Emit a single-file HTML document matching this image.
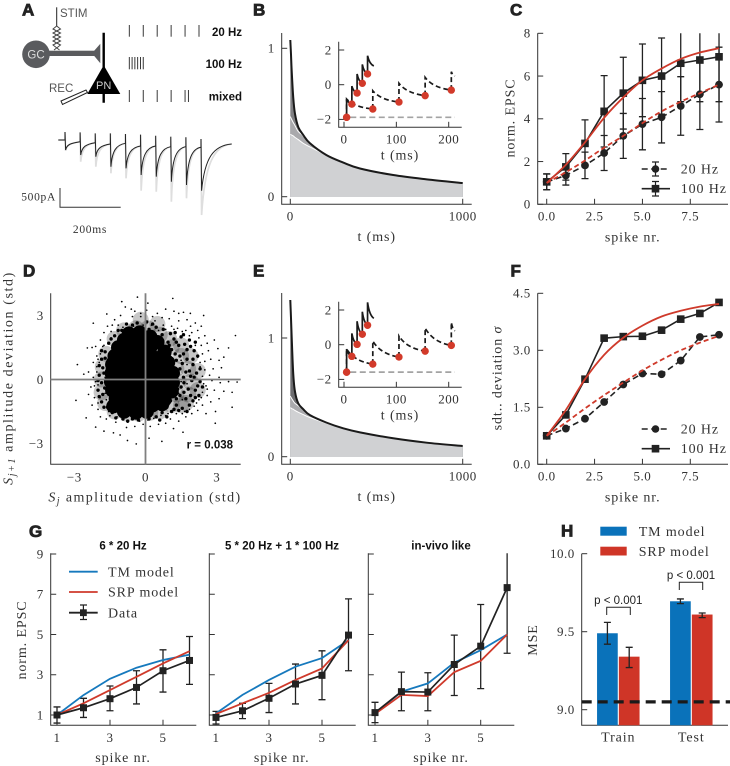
<!DOCTYPE html>
<html>
<head>
<meta charset="utf-8">
<title>Synaptic plasticity figure</title>
<style>
html,body{margin:0;padding:0;background:#fff;}
svg{display:block;}
text{font-family:"Liberation Serif",serif;fill:#333;font-size:13px;letter-spacing:.5px;}
text.t{font-size:14px;letter-spacing:.9px;}
text.sans{font-family:"Liberation Sans",sans-serif;letter-spacing:0;}
text.bold{font-family:"Liberation Sans",sans-serif;font-weight:bold;letter-spacing:0;fill:#111;font-size:11.5px;}
text.panel{font-family:"Liberation Sans",sans-serif;font-weight:bold;letter-spacing:0;fill:#222;font-size:17px;stroke:#222;stroke-width:.8px;}
</style>
</head>
<body>
<svg id="fig" width="730" height="766" viewBox="0 0 730 766" xmlns="http://www.w3.org/2000/svg">
<defs>
<clipPath id="clip-c"><rect x="530" y="33.3" width="200" height="175"/></clipPath>
<clipPath id="clip-g3"><rect x="360" y="553.3" width="160" height="175"/></clipPath>
</defs>

<g>
<text class="panel" x="22" y="15.5">A</text>
<text class="panel" x="253" y="15.5">B</text>
<text class="panel" x="510" y="15.5">C</text>
<text class="panel" x="23" y="276.5">D</text>
<text class="panel" x="253" y="276.5">E</text>
<text class="panel" x="510.5" y="276.5">F</text>
<text class="panel" x="29" y="537">G</text>
<text class="panel" x="561" y="536.5">H</text>
</g>

<g>
<line x1="56.7" y1="7.3" x2="56.7" y2="26" stroke="#222" stroke-width="1"/>
<polyline points="56.7,26 60.5,29 53,33 60.5,37 53,41 60.5,45 54,50" fill="none" stroke="#444" stroke-width="1"/>
<polyline points="56.7,26 53,29 60.5,33 53,37 60.5,41 53,45 59.5,50" fill="none" stroke="#444" stroke-width="1"/>
<circle cx="36" cy="54.3" r="13.8" fill="#5a5b5e"/>
<rect x="48" y="50.7" width="48" height="5.3" fill="#5a5b5e"/>
<polygon points="100.3,43.7 100.3,63.3 92,53.3" fill="#5a5b5e"/>
<line x1="103.7" y1="32.7" x2="103.7" y2="102.7" stroke="#000" stroke-width="2.4"/>
<polygon points="103.7,65.3 120.3,94 87.3,94" fill="#000"/>
<polygon points="61,101 86,90 87.5,92.5 62.5,104.5" fill="#fff" stroke="#222" stroke-width="1"/>
<text class="sans" x="36" y="58.5" text-anchor="middle" style="fill:#ddd;font-size:11.5px">GC</text>
<text class="sans" x="103.7" y="89" text-anchor="middle" style="fill:#ccc;font-size:11px">PN</text>
<text class="sans" x="60" y="17" style="fill:#555;font-size:11.5px">STIM</text>
<text class="sans" x="49" y="92" style="fill:#555;font-size:11.5px">REC</text>
<text class="bold" x="242" y="36" text-anchor="end">20 Hz</text>
<text class="bold" x="242" y="68" text-anchor="end">100 Hz</text>
<text class="bold" x="242" y="100.5" text-anchor="end">mixed</text>
</g>
<g id="rasters"></g>
<g id="trace"></g>
<g>
<path d="M60 188V207.3H120.7" fill="none" stroke="#333" stroke-width="1"/>
<text x="56" y="200.5" text-anchor="end" style="font-size:11.5px;letter-spacing:.7px">500pA</text>
<text x="90" y="233" text-anchor="middle" style="font-size:11.5px;letter-spacing:.7px">200ms</text>
</g>

<g id="panel-b"></g>
<text class="t" x="376.7" y="241" text-anchor="middle">t (ms)</text>
<text class="t" x="400" y="159.5" text-anchor="middle">t (ms)</text>

<g id="panel-c"></g>
<text class="t" x="632.7" y="241.5" text-anchor="middle">spike nr.</text>
<text class="t" transform="translate(514.5,118) rotate(-90)" text-anchor="middle">norm. EPSC</text>
<g>
<line x1="641.7" y1="169" x2="670" y2="169" stroke="#222" stroke-width="1.6" stroke-dasharray="6 3.5"/>
<path d="M652 162H659M655.5 162V176M652 176H659" stroke="#222" stroke-width="1.2" fill="none"/>
<circle cx="655.5" cy="169" r="3.8" fill="#222"/>
<text class="t" x="680.7" y="173.5">20 Hz</text>
<line x1="641.7" y1="188.7" x2="670" y2="188.7" stroke="#222" stroke-width="1.6"/>
<path d="M652 181.5H659M655.5 181.5V196M652 196H659" stroke="#222" stroke-width="1.2" fill="none"/>
<rect x="651.7" y="184.9" width="7.6" height="7.6" fill="#222"/>
<text class="t" x="680.7" y="193.2">100 Hz</text>
</g>

<g id="panel-d"></g>
<text class="t" x="145" y="501.5" text-anchor="middle" style="letter-spacing:1.4px"><tspan font-style="italic">S</tspan><tspan font-style="italic" dy="2.5" style="font-size:10px">j</tspan><tspan dy="-2.5"> amplitude deviation (std)</tspan></text>
<text class="t" transform="translate(12.5,378) rotate(-90)" text-anchor="middle" style="letter-spacing:1.6px"><tspan font-style="italic">S</tspan><tspan font-style="italic" dy="2.5" style="font-size:10px">j+1</tspan><tspan dy="-2.5"> amplitude deviation (std)</tspan></text>
<text class="bold" x="233" y="448.3" text-anchor="end">r = 0.038</text>

<g id="panel-e"></g>
<text class="t" x="376.7" y="501" text-anchor="middle">t (ms)</text>
<text class="t" x="400" y="419.5" text-anchor="middle">t (ms)</text>

<g id="panel-f"></g>
<text class="t" x="632.7" y="501.5" text-anchor="middle">spike nr.</text>
<text class="t" transform="translate(501.5,378) rotate(-90)" text-anchor="middle">sdt.. deviation <tspan font-style="italic">σ</tspan></text>
<g>
<line x1="641.7" y1="429" x2="670" y2="429" stroke="#222" stroke-width="1.6" stroke-dasharray="6 3.5"/>
<circle cx="655.5" cy="429" r="3.8" fill="#222"/>
<text class="t" x="680.7" y="433.5">20 Hz</text>
<line x1="641.7" y1="448.7" x2="670" y2="448.7" stroke="#222" stroke-width="1.6"/>
<rect x="651.7" y="444.9" width="7.6" height="7.6" fill="#222"/>
<text class="t" x="680.7" y="453.2">100 Hz</text>
</g>

<g id="panel-g"></g>
<text class="t" transform="translate(26,640) rotate(-90)" text-anchor="middle">norm. EPSC</text>
<text class="t" x="123" y="762" text-anchor="middle">spike nr.</text>
<text class="t" x="281.7" y="762" text-anchor="middle">spike nr.</text>
<text class="t" x="441" y="762" text-anchor="middle">spike nr.</text>
<text class="bold" x="123" y="549.5" text-anchor="middle">6 * 20 Hz</text>
<text class="bold" x="282" y="549.5" text-anchor="middle">5 * 20 Hz + 1 * 100 Hz</text>
<text class="bold" x="441" y="549.5" text-anchor="middle">in-vivo like</text>
<g>
<line x1="69" y1="571.7" x2="97.7" y2="571.7" stroke="#1679bd" stroke-width="1.8"/>
<text class="t" x="108" y="576.3">TM model</text>
<line x1="69" y1="592" x2="97.7" y2="592" stroke="#cf3a2b" stroke-width="1.8"/>
<text class="t" x="108" y="596.6">SRP model</text>
<line x1="69" y1="612.7" x2="97.7" y2="612.7" stroke="#222" stroke-width="1.8"/>
<path d="M80 605H87M83.4 605V619.5M80 619.5H87" stroke="#222" stroke-width="1.2" fill="none"/>
<rect x="80" y="609.3" width="6.8" height="6.8" fill="#222"/>
<text class="t" x="108" y="617.3">Data</text>
</g>

<g id="panel-h"></g>
<text class="t" transform="translate(537,640) rotate(-90)" text-anchor="middle">MSE</text>
<g>
<rect x="600.3" y="526.7" width="26.4" height="9" fill="#0a72ba"/>
<text class="t" x="638.7" y="536">TM model</text>
<rect x="600.3" y="546.7" width="26.4" height="8.8" fill="#cf3527"/>
<text class="t" x="638.7" y="556">SRP model</text>
</g>
<g>
<text class="sans" x="618.3" y="604" text-anchor="middle" style="font-size:11.5px;fill:#222">p &lt; 0.001</text>
<path d="M606.7 615V607.3H630.3V615" fill="none" stroke="#222" stroke-width="1"/>
<text class="sans" x="691" y="579" text-anchor="middle" style="font-size:11.5px;fill:#222">p &lt; 0.001</text>
<path d="M679.3 590V582.3H702.7V590" fill="none" stroke="#222" stroke-width="1"/>
</g>
</svg>

<script>
// ---------- panel A data ----------
const raster20 = [0, 50, 100, 150, 200, 250];
const raster100 = [0, 10, 20, 30, 40, 50];
const rasterMixed = [0, 50, 100, 150, 200, 212];
const traceTimes = [0, 50, 100, 150, 200, 250, 300, 350, 400, 450];
const tracePre = [0, 45, 71, 105, 87, 158, 158, 176, 176, 192];
const traceTop = [-210, -200, -175, -175, -158, -140, -113, -87, -71, -26];
const traceTroughMean = [263, 395, 439, 703, 745, 921, 965, 1097, 1184, 1334];
const traceTroughMax = [282, 571, 703, 876, 1008, 1334, 1360, 1624, 1534, 1974];
const traceEndValue = 105;

// ---------- panels B / E data ----------
const kernelTime = [0, 4, 8, 17, 27, 46, 75, 114, 210, 307, 404, 597, 791, 1000];
const bTotal = [1.056, .96, .85, .67, .56, .47, .416, .36, .28, .23, .19, .146, .117, .092];
const bMid = [.54, .53, .52, .50, .48, .44, .41, .36, .28, .23, .19, .146, .117, .092];
const bSlow = [.42, .418, .415, .41, .40, .385, .36, .335, .28, .23, .19, .146, .117, .092];
const eTotal = [1.32, 1.17, 1.01, .70, .55, .45, .40, .35, .287, .239, .205, .155, .118, .09];
const eMid = [.51, .50, .49, .47, .45, .43, .40, .35, .287, .239, .205, .155, .118, .09];
const eSlow = [.413, .41, .405, .40, .39, .375, .355, .33, .282, .239, .205, .155, .118, .09];
const kernelXTicks = [0, 1000];
const kernelXLabels = ['0', '1000'];
const kernelYTicks = [0, 1];
const kernelYLabels = ['0', '1'];
const insetXTicks = [0, 100, 200];
const insetXLabels = ['0', '100', '200'];
const insetYTicks = [-2, 0, 2];
const insetYLabels = ['\u22122', '0', '2'];
const fastTimes = [5, 15, 25, 35, 45];
const slowTimes = [5, 55, 105, 155, 205];
const tailFastTime = 57;
const tailSlowTime = 212;
const bFastDots = [-1.88, -1.12, -.48, .08, .62];
const bFastPeaks = [-.83, -.08, .62, 1.17, 1.67];
const bFastTail = 1.08;
const bSlowDots = [-1.88, -1.4, -1.0, -.63, -.31];
const bSlowPeaks = [-.83, -.35, .08, .42, .75];
const bSlowTail = .5;
const eFastDots = [-1.58, -.67, .02, .6, 1.12];
const eFastPeaks = [-.25, .65, 1.35, 1.9, 2.44];
const eFastTail = 1.52;
const eSlowDots = [-1.58, -1.12, -.71, -.37, -.04];
const eSlowPeaks = [-.25, .21, .5, .96, 1.29];
const eSlowTail = .8;

// ---------- panel C data ----------
const spikeIndex = [0, 1, 2, 3, 4, 5, 6, 7, 8, 9];
const spikeXTicks = [0, 2.5, 5, 7.5];
const spikeXLabels = ['0.0', '2.5', '5.0', '7.5'];
const cYTicks = [0, 2, 4, 6, 8];
const cYLabels = ['0', '2', '4', '6', '8'];
const c20Mean = [1.05, 1.35, 1.82, 2.4, 3.2, 3.75, 4.07, 4.6, 5.15, 5.6];
const c20Err = [.37, .45, .62, .82, 1.05, 1.2, 1.2, 1.37, 1.65, 1.75];
const c100Mean = [1.05, 1.75, 2.85, 4.35, 5.2, 5.8, 6.0, 6.6, 6.75, 6.9];
const c100Err = [.37, .62, 1.1, 1.67, 1.68, 1.7, 1.78, 1.8, 1.95, 2.1];
const c20Model = [1.0, 1.5, 2.05, 2.65, 3.2, 3.8, 4.35, 4.8, 5.2, 5.6];
const c100Model = [1.0, 1.85, 2.9, 4.05, 5.0, 5.8, 6.35, 6.8, 7.1, 7.3];

// ---------- panel D data ----------
const dTicks = [-3, 0, 3];
const dLabels = ['\u22123', '0', '3'];
const scatterHaze = [[1.1,1.5],[1.5,1.1],[1.3,.5],[1.8,.5],[1.4,-.1],[1.9,-.1],[1.3,-.7],[1.8,-.7],[1.1,-1.2],[1.5,-1.2],[-.9,2.3],[-.4,2.4],[.1,2.4],[.6,2.1],[1.0,1.9],[-1.3,1.9],[-.2,2.8],[.5,2.6],[-1.65,1.2],[-1.8,.6],[-1.85,0],[-1.85,-.6],[-1.7,-1.1],[-1.3,-1.5],[-.8,-1.6],[-.3,-1.6],[.2,-1.55],[.6,-1.5],[2.2,.4],[2.2,-.5],[1.9,1.1],[1.5,1.6],[1.7,-1.1]];
const scatterCore = [[-.7,2.15],[-.25,2.2],[.2,2.0],[-.9,1.85],[-.45,1.95],[0,1.8],[.5,1.75],[-1.15,1.5],[-.7,1.55],[-.25,1.45],[.2,1.5],[.8,1.3],[-1.3,1.1],[-.85,1.15],[-.4,1.05],[.05,1.1],[.45,1.0],[.95,.8],[-1.4,.7],[-.95,.72],[-.5,.68],[-.05,.7],[.4,.65],[-1.42,.3],[-.98,.28],[-.52,.32],[-.08,.3],[.38,.28],[.75,.35],[1.15,.3],[-1.45,-.1],[-1,-.12],[-.55,-.08],[-.1,-.1],[.35,-.12],[.8,-.05],[1.15,-.15],[-1.4,-.5],[-.95,-.52],[-.5,-.48],[-.05,-.5],[.4,-.52],[.75,-.45],[1.1,-.55],[-1.25,-.9],[-.85,-.92],[-.4,-.88],[.05,-.9],[.45,-.85],[.8,-.95],[-1.35,-1.25],[-.95,-1.2],[-.5,-1.25],[-.05,-1.22],[.3,-1.2],[.7,-1.15],[-.9,-1.5],[-.4,-1.55],[.05,-1.5]];
const scatterMid = [[1.2,1.9],[1.4,1.6],[1.1,1.4],[1.6,1.2],[1.0,1.0],[1.3,.9],[1.75,.95],[2,.7],[1.15,.6],[1.45,.5],[1.85,.4],[2.15,.3],[1.25,.2],[1.6,.1],[1.95,-.05],[2.3,-.1],[1.25,-.2],[1.5,-.35],[1.8,-.45],[2.1,-.5],[1.15,-.65],[1.45,-.75],[1.7,-.9],[2,-1],[1.05,-1],[1.3,-1.2],[1.55,-1.35],[.9,-1.3],[1.1,-1.5],[.7,-1.55],[.8,1.4],[.6,1.75],[.95,1.75],[.35,2.05],[.7,2.1],[1.05,2.15],[1.5,2.0],[1.85,1.85],[1.65,1.65],[2.05,1.35],[-.6,2.35],[-.2,2.3],[.15,2.35],[-1,2.3],[-.8,2.6],[-.35,2.65],[.05,2.7],[.45,2.45],[-1.3,2.05],[-1.55,1.7],[-1.7,1.3],[-1.85,.95],[-1.8,.55],[-1.95,.2],[-1.85,-.15],[-2,-.5],[-1.8,-.7],[-1.85,-1.05],[-1.6,-1.3],[-1.4,-1.55],[-1.7,1.0],[-1.75,.3],[-1.72,-.4],[-1.1,-1.6],[-.75,-1.65],[-.4,-1.6],[-.1,-1.65],[.25,-1.55],[.45,-1.75],[-.55,-1.85],[-.95,-1.85],[1.35,.35],[1.55,.75],[1.9,.15],[1.62,-.15],[1.35,-.45],[1.62,-.6],[1.9,-.75],[1.3,-.9],[1.45,1.1],[1.25,1.2],[1.0,1.6],[1.3,1.75],[1.05,.3],[1.0,-.35],[.9,-.8],[1.7,.35],[2.0,.95],[2.2,-.3],[1.85,-1.2],[1.2,-1.4],[1.75,1.4],[1.9,1.55],[2.2,1.1],[2.3,.5],[2.05,.1],[2.4,-.35],[2.25,-.75],[2.1,-.85],[1.4,-1.45],[1.75,-1.5],[.9,-1.75],[.6,-1.9],[.15,-1.85],[-.3,-1.9],[-.75,-1.95],[-1.25,-1.8],[-1.75,-1.3],[-1.15,2.3],[-.55,2.55],[.3,2.6],[.75,2.35],[1.25,2.2],[1.6,2.1],[2.1,1.75],[-1.45,1.9],[-1.85,1.35],[-1.95,.65],[-2.0,-.05],[-1.95,-.8]];
const scatterSpeckle = [[-.34,3.86],[1.15,3.8],[-1,3.65],[.1,3.58],[-.85,3.4],[.5,3.1],[.85,3.3],[1.2,3.2],[1.4,3.1],[1.6,3.15],[-.45,3.2],[-.2,3.1],[-.6,3.3],[.05,3.25],[.3,2.95],[.7,2.9],[1.0,2.85],[1.4,2.75],[1.75,2.8],[-1.05,3.0],[-1.3,2.8],[-1.63,3.07],[-.2,2.95],[-2.2,2.64],[-1.6,2.5],[-1.4,2.55],[-1.75,2.2],[-1.9,1.85],[-2.1,1.55],[-2.45,1.48],[-2.25,1.5],[-2.05,1.1],[-2.2,.8],[-2.05,.6],[-2.87,.7],[-2.6,.25],[-2.4,.35],[-2.2,.1],[-2.15,-.3],[-2.3,-.35],[-2.93,-.98],[-2.4,-.7],[-2.15,-.85],[-2.25,-1.2],[-2,-1.4],[-2.5,-1.8],[-2.1,-2.23],[-1.9,-1.75],[-1.65,-1.85],[-1.75,-2.42],[-1.35,-2.5],[-1.25,-2],[-1.07,-2.6],[-.8,-2.25],[-.76,-2.86],[-.39,-3.02],[-.45,-2.2],[-.1,-2.1],[.15,-2.75],[.69,-2.9],[.2,-2.2],[.55,-2.1],[.85,-2.05],[1.18,-2.3],[1.58,-2.47],[1.4,-1.95],[1.05,-1.85],[1.7,-1.75],[1.95,-1.6],[2.2,-1.45],[2.94,-2.05],[2.55,-1.6],[2.4,-1.2],[2.75,-1.05],[2.95,-1.5],[3.1,-.9],[3.65,-1.3],[3.65,-.6],[3.3,-.55],[2.9,-.5],[2.6,-.75],[2.55,-.3],[2.8,-.05],[3.15,-.15],[3.5,-.1],[3.86,-.12],[3.1,.1],[2.7,.2],[2.5,.45],[2.85,.5],[3.2,.55],[2.5,.85],[2.75,.95],[3.1,.9],[3.3,1.05],[2.4,1.2],[2.65,1.35],[3.05,1.45],[3.5,1.48],[2.35,1.6],[2.6,1.7],[2.9,1.85],[2.25,1.95],[3.79,2.06],[2.5,2.05],[2.2,2.3],[1.95,2.2],[1.7,2.3],[2.45,3],[1.89,3.1],[2.1,2.65],[1.35,2.4],[1.9,2.5],[2.35,2.5],[1.1,2.5],[.75,2.55],[.4,2.75],[-1.15,2.55],[-.55,2.95],[-.1,2.55],[1.5,.9],[2.3,.6],[2.6,-.45],[2.35,-.85],[2.15,-1.1],[1.55,-1.6],[.85,-1.7],[.1,-1.9],[-.25,-1.95],[-.75,-2.0],[-1.5,-1.7],[-2.0,-1.1],[-2.1,-.1],[-2.05,.35],[-1.95,.8],[-1.8,1.55],[-1.45,2.25],[-2.0,-.25],[-1.92,-.85],[-1.55,-1.5],[-1.2,-1.75],[-.6,-1.72],[-.25,-1.8],[.05,-1.78],[.35,-1.82],[.65,-1.68],[.95,-1.6],[1.3,-1.6],[1.65,-1.5],[1.85,-1.4],[2.05,-1.25],[2.25,-.95],[2.4,-.6],[2.45,-.2],[2.4,.15],[2.3,.8],[2.2,1.05],[2.1,1.6],[1.85,2.05],[1.55,2.25],[1.2,2.35],[.85,2.35],[.55,2.3],[.25,2.55],[-.1,2.45],[-.5,2.5],[-.95,2.45],[-1.15,2.3],[-1.45,1.95],[-1.75,1.6],[-1.9,1.2],[-2,.95],[-1.6,.95],[-1.65,.5],[-1.7,.1],[-1.68,-.2],[-1.7,-.65],[-1.65,-.95],[-1.45,-1.2],[-1.25,-1.4],[-.8,-1.5],[-.45,-1.5],[0,-1.5],[.55,-1.3],[.8,-1.05],[1.0,-.55],[1.15,-.05],[1.15,.45],[1,.75],[.85,1.1],[.7,1.25],[.5,1.55],[.75,.85],[1.05,1.15],[1.2,.75],[1.4,.25],[1.5,-.1],[1.4,-.65],[1.55,-.95],[1.75,-.2],[1.75,.7]];

// ---------- panel F data ----------
const fYTicks = [0, 1.5, 3, 4.5];
const fYLabels = ['0.0', '1.5', '3.0', '4.5'];
const f20Mean = [.75, .94, 1.2, 1.64, 2.1, 2.39, 2.37, 2.73, 3.35, 3.41];
const f100Mean = [.75, 1.3, 2.24, 3.32, 3.36, 3.37, 3.53, 3.82, 3.97, 4.26];
const f20Model = [.75, 1.1, 1.47, 1.82, 2.15, 2.47, 2.75, 3.0, 3.2, 3.38];
const f100Model = [.75, 1.43, 2.24, 2.88, 3.33, 3.65, 3.89, 4.04, 4.15, 4.22];

// ---------- panel G data ----------
const gSpikes = [1, 2, 3, 4, 5, 6];
const gXTicks = [1, 3, 5];
const gXLabels = ['1', '3', '5'];
const gYTicks = [1, 3, 5, 7, 9];
const gYLabels = ['1', '3', '5', '7', '9'];
const g1Data = [1.0, 1.36, 1.81, 2.37, 3.2, 3.71];
const g1Low = [.6, .88, 1.21, 1.55, 2.14, 2.52];
const g1High = [1.4, 1.83, 2.44, 3.2, 4.24, 4.9];
const g1TM = [1.0, 1.99, 2.8, 3.35, 3.73, 4.0];
const g1SRP = [1.0, 1.58, 2.24, 2.9, 3.56, 4.17];
const g2Data = [.88, 1.21, 1.83, 2.54, 2.97, 4.97];
const g2Low = [.55, .82, 1.12, 1.55, 1.76, 3.2];
const g2High = [1.18, 1.58, 2.57, 3.53, 4.19, 6.77];
const g2TM = [1.08, 2.0, 2.74, 3.4, 3.83, 4.72];
const g2SRP = [1.05, 1.58, 2.1, 2.74, 3.31, 4.72];
const g3Data = [1.12, 2.16, 2.14, 3.51, 4.42, 7.33];
const g3Low = [.62, 1.21, 1.21, 1.97, 2.31, 4.07];
const g3High = [1.63, 3.13, 3.1, 4.97, 6.49, 9.6];
const g3TM = [1.08, 2.16, 2.57, 3.6, 4.22, 5.0];
const g3SRP = [1.05, 2.0, 1.94, 3.13, 3.69, 5.0];

// ---------- panel H data ----------
const hCategories = ['Train', 'Test'];
const hTM = [9.49, 9.695];
const hSRP = [9.34, 9.61];
const hTMLow = [9.42, 9.68];
const hTMHigh = [9.56, 9.71];
const hSRPLow = [9.27, 9.59];
const hSRPHigh = [9.40, 9.62];
const hBaseline = [9.05];
const hYTicks = [9, 9.5, 10];
const hYLabels = ['9.0', '9.5', '10.0'];

// ---------- helpers ----------
const NS = 'http://www.w3.org/2000/svg';
const BLUE = '#1679bd', RED = '#cf3a2b', INK = '#222', AXIS = '#333';

function el(parent, tag, attrs, name) {
  const node = document.createElementNS(NS, tag);
  for (const k in attrs) node.setAttribute(k, attrs[k]);
  
  
  parent.appendChild(node);
  return node;
}
function linear(d0, d1, r0, r1) {
  return function (v) { return r0 + (v - d0) * (r1 - r0) / (d1 - d0); };
}
function polyPath(pts) {
  return pts.map(function (p, i) { return (i ? 'L' : 'M') + p[0].toFixed(2) + ' ' + p[1].toFixed(2); }).join('');
}
function smoothPath(pts, cont) {
  let d = (cont ? 'L' : 'M') + pts[0][0].toFixed(2) + ' ' + pts[0][1].toFixed(2);
  for (let i = 0; i < pts.length - 1; i++) {
    const p0 = pts[i - 1] || pts[i], p1 = pts[i], p2 = pts[i + 1], p3 = pts[i + 2] || p2;
    const c1x = p1[0] + (p2[0] - p0[0]) / 6, c1y = p1[1] + (p2[1] - p0[1]) / 6;
    const c2x = p2[0] - (p3[0] - p1[0]) / 6, c2y = p2[1] - (p3[1] - p1[1]) / 6;
    d += 'C' + [c1x, c1y, c2x, c2y, p2[0], p2[1]].map(function (n) { return n.toFixed(2); }).join(' ');
  }
  return d;
}
function zipPts(xs, ys, sx, sy) {
  return xs.map(function (x, i) { return [sx(x), sy(ys[i])]; });
}
function drawAxes(g, prefix, box, sx, sy, xTicks, xLabels, yTicks, yLabels, opts) {
  const o = opts || {};
  const tl = o.tick === undefined ? 5.5 : o.tick;
  el(g, 'path', { d: 'M' + box.l + ' ' + box.t + 'V' + box.b + 'H' + box.r, fill: 'none', stroke: AXIS, 'stroke-width': 1 }, prefix + '-axes');
  xTicks.forEach(function (v, i) {
    const x = sx(v);
    if (tl) el(g, 'line', { x1: x, x2: x, y1: box.b, y2: box.b - tl, stroke: AXIS, 'stroke-width': 1 }, prefix + '-x-tick');
    const t = el(g, 'text', { x: x, y: box.b + (o.xLabelDy || 16), 'text-anchor': 'middle' }, prefix + '-x-tick-label');
    t.textContent = xLabels[i];
  });
  yTicks.forEach(function (v, i) {
    const y = sy(v);
    if (tl) el(g, 'line', { x1: box.l, x2: box.l + tl, y1: y, y2: y, stroke: AXIS, 'stroke-width': 1 }, prefix + '-y-tick');
    if (yLabels) {
      const t = el(g, 'text', { x: box.l - 7, y: y + 4.3, 'text-anchor': 'end' }, prefix + '-y-tick-label');
      t.textContent = yLabels[i];
    }
  });
}
function errorBars(g, name, xs, lows, highs, sx, sy, capW, color) {
  xs.forEach(function (x, i) {
    const px = sx(x), lo = sy(lows[i]), hi = sy(highs[i]);
    el(g, 'path', {
      d: 'M' + px + ' ' + lo + 'V' + hi + 'M' + (px - capW) + ' ' + lo + 'H' + (px + capW) + 'M' + (px - capW) + ' ' + hi + 'H' + (px + capW),
      fill: 'none', stroke: color || INK, 'stroke-width': 1.3
    }, name);
  });
}
function squares(g, name, xs, ys, sx, sy, side) {
  xs.forEach(function (x, i) {
    el(g, 'rect', { x: sx(x) - side / 2, y: sy(ys[i]) - side / 2, width: side, height: side, fill: INK }, name);
  });
}
function circles(g, name, xs, ys, sx, sy, r, color) {
  xs.forEach(function (x, i) {
    el(g, 'circle', { cx: sx(x), cy: sy(ys[i]), r: r, fill: color || INK }, name);
  });
}

// ---------- panel A ----------
(function () {
  const g = document.getElementById('rasters');
  const sx = linear(0, 250, 129.3, 199);
  [[raster20, 25, 36.7, 'raster-20hz'], [raster100, 57, 69.3, 'raster-100hz'], [rasterMixed, 90, 102, 'raster-mixed']].forEach(function (r) {
    r[0].forEach(function (t) {
      el(g, 'line', { x1: sx(t), x2: sx(t), y1: r[1], y2: r[2], stroke: '#222', 'stroke-width': .9 }, r[3] + '-spike');
    });
  });
  const tg = document.getElementById('trace');
  const tx = linear(0, 450, 65, 201);
  const ty = linear(0, 500, 140, 159);
  function tracePath(trough) {
    let d = 'M58.3 140';
    traceTimes.forEach(function (t, i) {
      const x = tx(t);
      const next = i < traceTimes.length - 1 ? tx(traceTimes[i + 1]) : 231.7;
      const nextPre = i < traceTimes.length - 1 ? ty(tracePre[i + 1]) : ty(traceEndValue);
      const tr = ty(trough[i]);
      d += 'L' + x + ' ' + ty(tracePre[i]) + 'L' + x + ' ' + ty(traceTop[i]) + 'L' + (x + .6) + ' ' + tr;
      const w = next - x;
      d += 'C' + (x + w * .12) + ' ' + (nextPre + (tr - nextPre) * .3) + ' ' + (x + w * .4) + ' ' + (nextPre + 1.5) + ' ' + next + ' ' + nextPre;
    });
    return d;
  }
  el(tg, 'path', { d: tracePath(traceTroughMax), fill: 'none', stroke: '#dedede', 'stroke-width': 1.7 }, 'trace-individual-trials');
  el(tg, 'path', { d: tracePath(traceTroughMean), fill: 'none', stroke: '#222', 'stroke-width': 1 }, 'trace-mean');
})();

// ---------- panels B and E ----------
function kernelPanel(id, prefix, oy, sy, total, mid, slow, dark, fast) {
  const g = document.getElementById(id);
  const sx = linear(0, 1000, 290.3, 462.7);
  const box = { l: 281.7, r: 471.7, t: 33 + oy, b: 204.3 + oy };
  drawAxes(g, prefix, box, sx, sy, kernelXTicks, kernelXLabels, kernelYTicks, kernelYLabels);
  const baseY = sy(0) + .3;
  function area(vals, fill, name) {
    const pts = zipPts(kernelTime, vals, sx, sy);
    el(g, 'path', { d: smoothPath(pts) + 'L' + pts[pts.length - 1][0] + ' ' + baseY + 'L' + pts[0][0] + ' ' + baseY + 'Z', fill: fill }, name);
  }
  area(total, dark, prefix + '-fast-component');
  area(mid, '#a9a9ac', prefix + '-medium-component');
  area(slow, '#d0d1d3', prefix + '-slow-component');
  el(g, 'path', { d: smoothPath(zipPts(kernelTime, mid, sx, sy)), fill: 'none', stroke: '#fff', 'stroke-width': 1 }, prefix + '-medium-boundary');
  el(g, 'path', { d: smoothPath(zipPts(kernelTime, slow, sx, sy)), fill: 'none', stroke: '#fff', 'stroke-width': 1 }, prefix + '-slow-boundary');
  el(g, 'path', { d: smoothPath(zipPts(kernelTime, total, sx, sy)), fill: 'none', stroke: '#1a1a1a', 'stroke-width': 2 }, prefix + '-kernel-curve');

  // inset
  const ix = linear(0, 200, 344, 448.7);
  const iy = linear(0, 2, 84.7 + oy, 50 + oy);
  const ibox = { l: 338.7, r: 461.7, t: 41.7 + oy, b: 127.3 + oy };
  drawAxes(g, prefix + '-inset', ibox, ix, iy, insetXTicks, insetXLabels, insetYTicks, insetYLabels, { xLabelDy: 16 });
  el(g, 'line', { x1: ix(12), x2: ix(212), y1: iy(fast.fd[0]), y2: iy(fast.fd[0]), stroke: '#a3a3a3', 'stroke-width': 1.7, 'stroke-dasharray': '6 3.5' }, prefix + '-inset-baseline');
  function decay(times, dots, peaks, tailT, tail) {
    let d = '';
    times.forEach(function (t, i) {
      const nextT = i < times.length - 1 ? times[i + 1] : tailT;
      const nextV = i < times.length - 1 ? dots[i + 1] : tail;
      const c = [ix(t + (nextT - t) * .3), iy(nextV + (peaks[i] - nextV) * .18)];
      d += 'M' + ix(t) + ' ' + iy(dots[i]) + 'L' + ix(t) + ' ' + iy(peaks[i]);
      d += 'Q' + c[0] + ' ' + c[1] + ' ' + ix(nextT) + ' ' + iy(nextV);
    });
    return d;
  }
  el(g, 'path', { d: decay(slowTimes, fast.sd, fast.sp, tailSlowTime, fast.st), fill: 'none', stroke: '#1a1a1a', 'stroke-width': 1.7, 'stroke-dasharray': '5 3' }, prefix + '-inset-20hz-trace');
  el(g, 'path', { d: decay(fastTimes, fast.fd, fast.fp, tailFastTime, fast.ft), fill: 'none', stroke: '#1a1a1a', 'stroke-width': 1.7 }, prefix + '-inset-100hz-trace');
  circles(g, prefix + '-inset-100hz-dot', fastTimes, fast.fd, ix, iy, 3.7, '#d23a2a');
  circles(g, prefix + '-inset-20hz-dot', slowTimes, fast.sd, ix, iy, 3.7, '#d23a2a');
}
kernelPanel('panel-b', 'b', 0, linear(0, 1, 196.7, 48.3), bTotal, bMid, bSlow, '#808083',
  { fd: bFastDots, fp: bFastPeaks, ft: bFastTail, sd: bSlowDots, sp: bSlowPeaks, st: bSlowTail });
kernelPanel('panel-e', 'e', 260, linear(0, 1, 456.7, 338), eTotal, eMid, eSlow, '#6d6d70',
  { fd: eFastDots, fp: eFastPeaks, ft: eFastTail, sd: eSlowDots, sp: eSlowPeaks, st: eSlowTail });

// ---------- panels C and F ----------
const spikeScale = linear(0, 7.5, 546.7, 690.3);
(function () {
  const g = document.getElementById('panel-c');
  const sy = linear(0, 8, 204.3, 33.3);
  drawAxes(g, 'c', { l: 537.7, r: 728, t: 33.3, b: 204.3 }, spikeScale, sy, spikeXTicks, spikeXLabels, cYTicks, cYLabels);
  const clip = el(g, 'g', { 'clip-path': 'url(#clip-c)' }, 'c-series');
  const low20 = c20Mean.map(function (m, i) { return m - c20Err[i]; });
  const high20 = c20Mean.map(function (m, i) { return m + c20Err[i]; });
  const low100 = c100Mean.map(function (m, i) { return m - c100Err[i]; });
  const high100 = c100Mean.map(function (m, i) { return m + c100Err[i]; });
  errorBars(clip, 'c-errorbar-20hz', spikeIndex, low20, high20, spikeScale, sy, 3.5);
  errorBars(clip, 'c-errorbar-100hz', spikeIndex, low100, high100, spikeScale, sy, 3.5);
  el(clip, 'path', { d: polyPath(zipPts(spikeIndex, c20Mean, spikeScale, sy)), fill: 'none', stroke: INK, 'stroke-width': 1.6, 'stroke-dasharray': '6 3.5' }, 'c-line-20hz');
  el(clip, 'path', { d: polyPath(zipPts(spikeIndex, c100Mean, spikeScale, sy)), fill: 'none', stroke: INK, 'stroke-width': 1.6 }, 'c-line-100hz');
  circles(clip, 'c-marker-20hz', spikeIndex, c20Mean, spikeScale, sy, 3.9);
  squares(clip, 'c-marker-100hz', spikeIndex, c100Mean, spikeScale, sy, 7.6);
  el(clip, 'path', { d: smoothPath(zipPts(spikeIndex, c20Model, spikeScale, sy)), fill: 'none', stroke: RED, 'stroke-width': 1.8, 'stroke-dasharray': '5 3' }, 'c-model-20hz');
  el(clip, 'path', { d: smoothPath(zipPts(spikeIndex, c100Model, spikeScale, sy)), fill: 'none', stroke: RED, 'stroke-width': 1.8 }, 'c-model-100hz');
})();
(function () {
  const g = document.getElementById('panel-f');
  const sy = linear(0, 4.5, 464.3, 293.3);
  drawAxes(g, 'f', { l: 537.7, r: 728, t: 293.3, b: 464.3 }, spikeScale, sy, spikeXTicks, spikeXLabels, fYTicks, fYLabels);
  el(g, 'path', { d: polyPath(zipPts(spikeIndex, f20Mean, spikeScale, sy)), fill: 'none', stroke: INK, 'stroke-width': 1.6, 'stroke-dasharray': '6 3.5' }, 'f-line-20hz');
  el(g, 'path', { d: polyPath(zipPts(spikeIndex, f100Mean, spikeScale, sy)), fill: 'none', stroke: INK, 'stroke-width': 1.6 }, 'f-line-100hz');
  circles(g, 'f-marker-20hz', spikeIndex, f20Mean, spikeScale, sy, 3.9);
  squares(g, 'f-marker-100hz', spikeIndex, f100Mean, spikeScale, sy, 7.6);
  el(g, 'path', { d: smoothPath(zipPts(spikeIndex, f20Model, spikeScale, sy)), fill: 'none', stroke: RED, 'stroke-width': 1.8, 'stroke-dasharray': '5 3' }, 'f-model-20hz');
  el(g, 'path', { d: smoothPath(zipPts(spikeIndex, f100Model, spikeScale, sy)), fill: 'none', stroke: RED, 'stroke-width': 1.8 }, 'f-model-100hz');
})();

// ---------- panel D ----------
(function () {
  const g = document.getElementById('panel-d');
  const sx = linear(-3, 3, 74.3, 216.7);
  const sy = linear(-3, 3, 443.5, 315.5);
  drawAxes(g, 'd', { l: 50.7, r: 240.7, t: 293.3, b: 464.3 }, sx, sy, dTicks, dLabels, dTicks, dLabels, { tick: 0, xLabelDy: 17 });
  scatterHaze.forEach(function (p) {
    el(g, 'circle', { cx: sx(p[0]), cy: sy(p[1]), r: 8, fill: '#000', opacity: .22 }, 'scatter-density-haze');
  });
  scatterCore.forEach(function (p) {
    el(g, 'circle', { cx: sx(p[0]), cy: sy(p[1]), r: 7.2, fill: '#000' }, 'scatter-dense-point');
  });
  scatterMid.forEach(function (p) {
    el(g, 'circle', { cx: sx(p[0]), cy: sy(p[1]), r: 1.7, fill: '#000' }, 'scatter-mid-point');
  });
  scatterSpeckle.forEach(function (p) {
    el(g, 'circle', { cx: sx(p[0]), cy: sy(p[1]), r: .85, fill: '#000' }, 'scatter-sparse-point');
  });
  el(g, 'line', { x1: sx(0), x2: sx(0), y1: 293.3, y2: 464.3, stroke: '#808080', 'stroke-width': 1.8 }, 'd-vertical-zero-line');
  el(g, 'line', { x1: 50.7, x2: 240.7, y1: sy(0), y2: sy(0), stroke: '#808080', 'stroke-width': 1.8 }, 'd-horizontal-zero-line');
})();

// ---------- panel G ----------
(function () {
  const root = document.getElementById('panel-g');
  const sy = linear(1, 9, 715, 554);
  function sub(prefix, l, r, x1, x5, data, low, high, tm, srp, yLabels, clipId) {
    const g = el(root, 'g', {}, prefix + '-subplot');
    const sx = linear(1, 5, x1, x5);
    drawAxes(g, prefix, { l: l, r: r, t: 553.3, b: 725.3 }, sx, sy, gXTicks, gXLabels, gYTicks, yLabels, { xLabelDy: 16.5 });
    const s = clipId ? el(g, 'g', { 'clip-path': 'url(#' + clipId + ')' }, prefix + '-series') : g;
    errorBars(s, prefix + '-errorbar', gSpikes, low, high, sx, sy, 3.5);
    el(s, 'path', { d: polyPath(zipPts(gSpikes, tm, sx, sy)), fill: 'none', stroke: BLUE, 'stroke-width': 1.8 }, prefix + '-tm-line');
    el(s, 'path', { d: polyPath(zipPts(gSpikes, srp, sx, sy)), fill: 'none', stroke: RED, 'stroke-width': 1.8 }, prefix + '-srp-line');
    el(s, 'path', { d: polyPath(zipPts(gSpikes, data, sx, sy)), fill: 'none', stroke: INK, 'stroke-width': 1.7 }, prefix + '-data-line');
    squares(s, prefix + '-data-marker', gSpikes, data, sx, sy, 7);
  }
  sub('g1', 50.7, 196.3, 57, 163, g1Data, g1Low, g1High, g1TM, g1SRP, gYLabels);
  sub('g2', 209.3, 355.7, 216, 322, g2Data, g2Low, g2High, g2TM, g2SRP, null);
  sub('g3', 368.3, 514.3, 375, 480.7, g3Data, g3Low, g3High, g3TM, g3SRP, null, 'clip-g3');
})();

// ---------- panel H ----------
(function () {
  const g = document.getElementById('panel-h');
  const sy = linear(9, 10, 709.7, 553.7);
  const base = 725.3;
  const sx = linear(0, 1, 618.3, 691.3);
  const barW = 20.7;
  const offset = 10.9;
  drawAxes(g, 'h', { l: 581.7, r: 728, t: 553.7, b: base }, sx, sy, [], [], hYTicks, hYLabels);
  hCategories.forEach(function (c, i) {
    const tmX = sx(i) - offset;
    const srpX = sx(i) + offset;
    el(g, 'rect', { x: tmX - barW / 2, y: sy(hTM[i]), width: barW, height: base - sy(hTM[i]), fill: '#0a72ba' }, 'bar-tm-' + c.toLowerCase());
    el(g, 'rect', { x: srpX - barW / 2, y: sy(hSRP[i]), width: barW, height: base - sy(hSRP[i]), fill: '#cf3527' }, 'bar-srp-' + c.toLowerCase());
    [[tmX, hTMLow[i], hTMHigh[i], 'tm'], [srpX, hSRPLow[i], hSRPHigh[i], 'srp']].forEach(function (e) {
      el(g, 'path', { d: 'M' + e[0] + ' ' + sy(e[1]) + 'V' + sy(e[2]) + 'M' + (e[0] - 3.5) + ' ' + sy(e[1]) + 'H' + (e[0] + 3.5) + 'M' + (e[0] - 3.5) + ' ' + sy(e[2]) + 'H' + (e[0] + 3.5), fill: 'none', stroke: '#222', 'stroke-width': 1.3 }, 'errorbar-' + e[3] + '-' + c.toLowerCase());
    });
    const t = el(g, 'text', { x: sx(i), y: 741.5, 'text-anchor': 'middle', style: 'font-size:14px;letter-spacing:.9px' }, 'h-x-label-' + c.toLowerCase());
    t.textContent = c;
  });
  el(g, 'line', { x1: 581.7, x2: 730, y1: sy(hBaseline[0]), y2: sy(hBaseline[0]), stroke: '#1a1a1a', 'stroke-width': 3.2, 'stroke-dasharray': '10 6' }, 'h-baseline-dashed');
})();
</script>
</body>
</html>
